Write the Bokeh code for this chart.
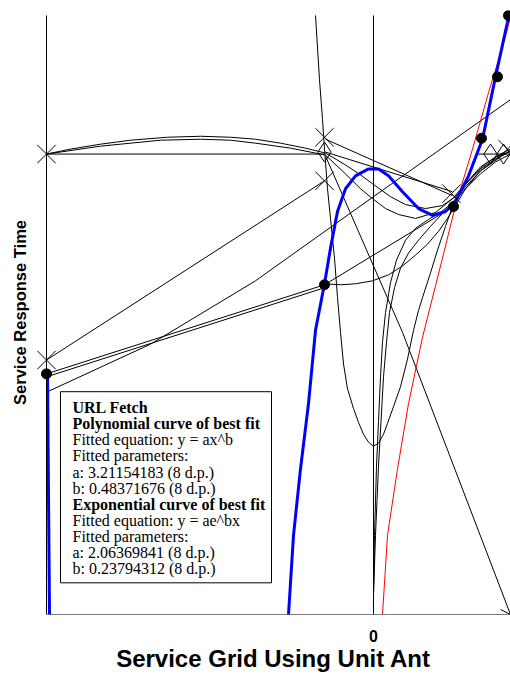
from bokeh.plotting import figure
from bokeh.models import Range1d, FixedTicker, Arrow, OpenHead, BoxAnnotation, Label
from bokeh.embed import file_html
from bokeh.resources import INLINE

# ---- data ----
dots_x = [-32.7, -4.9, 8.0, 10.8, 12.4, 13.5]
dots_y = [24.3, 33.3, 41.2, 48.1, 54.3, 60.5]

cross_x = [-32.7, -32.7, -4.9, -4.9, 7.8, 13.4]
cross_y = [46.5, 25.7, 48.2, 43.8, 42.5, 47.0]

diam_x = [-4.9, 11.7, 13.0]
diam_y = [46.7, 46.5, 46.5]

blue_x = [-8.5, -8.0, -7.3, -6.5, -5.8, -4.9, -4.3, -3.6, -2.8, -1.8, -0.5, 0.5, 1.5, 2.9, 4.5, 5.9, 7.2, 8.2, 9.5, 10.9, 12.2, 13.5]
blue_y = [0, 8.0, 14.7, 21.3, 28.7, 33.4, 37.0, 40.7, 43.0, 44.3, 45.0, 45.0, 44.3, 42.7, 41.0, 40.3, 40.7, 41.7, 44.3, 48.0, 54.3, 60.3]
blue_left_x = [-32.6, -32.4]
blue_left_y = [24.3, 0]

red_x = [0.9, 1.4, 2.4, 3.5, 4.9, 6.9, 8.2, 9.9, 11.5, 12.9, 13.7]
red_y = [0, 8.0, 14.7, 21.3, 28.0, 36.0, 41.3, 47.0, 52.7, 57.3, 60.3]

h_left_x = [-32.7, -4.9]
h_left_y = [46.5, 46.5]
h_right_x = [10.4, 13.7]
h_right_y = [46.5, 46.5]
diag1_x = [-32.7, -4.9]
diag1_y = [25.7, 43.8]
d2a_x = [-32.7, -4.9]
d2a_y = [24.3, 33.3]
d2b_x = [-32.7, -4.9]
d2b_y = [24.0, 33.0]
d3_x = [-4.9, 8.0]
d3_y = [33.3, 41.2]
long_x = [-32.6, -22.3, -11.8, 0, 13.7]
long_y = [22.5, 27.3, 33.7, 42.2, 52.0]
u_x = [-5.8, -5.4, -5.1, -4.9, -4.6, -4.3, -3.9, -3.6, -3.3, -3.0, -2.6, -2.0, -1.5, -1.0, -0.5, 0, 0.5, 1.0, 1.4,
       2.0, 2.7, 3.4, 4.0, 4.5, 4.9, 5.7, 6.4, 7.2, 7.9, 9.2, 10.7, 12.2, 13.7]
u_y = [60.5, 54.0, 50.0, 47.0, 43.0, 40.0, 36.0, 32.0, 28.5, 25.3, 22.8, 20.8, 19.4, 18.2, 17.4, 17.0, 17.3, 18.2, 19.3,
       21.0, 23.0, 25.8, 28.7, 30.7, 32.0, 34.5, 36.8, 39.2, 41.2, 43.5, 45.2, 46.2, 46.8]
e2a_x = [0, 0.05, 0.1, 0.2, 0.3, 0.5, 0.7, 0.9, 1.2, 1.7, 2.3, 3.2, 4.2, 5.5, 6.7, 7.9, 9.2, 10.7, 12.2, 13.7]
e2a_y = [2.0, 5.0, 8.0, 11.5, 15.0, 19.5, 24.0, 27.5, 30.5, 33.5, 35.8, 37.8, 39.0, 39.9, 40.6, 41.6, 43.2, 44.8, 46.0, 46.8]
e2b_x = [0, 0.1, 0.2, 0.35, 0.5, 0.75, 1.0, 1.3, 1.6, 2.1, 2.7, 3.5, 4.5, 5.7, 6.9, 7.9, 9.2, 10.7, 12.2, 13.7]
e2b_y = [2.0, 5.0, 8.0, 11.5, 15.0, 19.5, 24.0, 27.5, 30.5, 33.0, 35.0, 36.5, 37.8, 39.2, 40.5, 41.5, 43.0, 44.5, 45.7, 46.5]
e3_x = [-4.8, 2.9, 13.7]
e3_y = [46.3, 28.5, 0]
e4a_x = [-4.8, 7.9]
e4a_y = [48.0, 42.3]
e4b_x = [-4.8, 7.9]
e4b_y = [46.7, 42.7]
arca_x = [-32.7, -30.3, -27.3, -24.3, -20.6, -17.3, -14.3, -11.8, -9.3, -6.8, -4.8, -2.8, -1.3, -0.1, 1.7, 3.2, 5.2,
          6.9, 8.2, 9.7, 11.2, 12.7, 13.7]
arca_y = [46.5, 47.0, 47.5, 47.9, 48.2, 48.3, 48.2, 48.0, 47.6, 47.1, 46.6, 45.4, 44.4, 43.5, 42.2, 41.4, 41.0,
          41.3, 42.2, 44.0, 45.5, 46.5, 47.0]
arcb_x = [-32.7, -27.3, -21.3, -17.3, -14.3, -11.8, -8.3, -4.8, -2.8, -1.3, -0.1, 1.2, 2.5, 4.2, 6.2, 7.9, 9.2,
          10.7, 12.2, 13.2]
arcb_y = [46.5, 47.3, 47.9, 48.0, 47.9, 47.6, 47.1, 46.4, 44.5, 43.0, 42.0, 41.0, 40.4, 40.0, 40.6, 42.0, 43.5,
          45.0, 46.0, 46.5]
e6_x = [-4.9, -3.3, -1.8, -0.1, 1.5, 2.9, 4.2, 5.4, 6.5, 7.4, 8.2, 9.2, 10.7, 12.7]
e6_y = [33.4, 33.3, 33.4, 33.7, 34.3, 35.2, 36.3, 37.4, 38.7, 40.0, 41.3, 43.0, 44.8, 46.2]

x_axis_start, x_axis_end = -32.7, 13.7
y_axis_top = 60.5
x_title = "Service Grid Using Unit Ant"
y_title = "Service Response Time"

legend_lines = [
    ("URL Fetch", "bold"),
    ("Polynomial curve of best fit", "bold"),
    ("Fitted equation:  y = ax^b", "normal"),
    ("Fitted parameters:", "normal"),
    ("a:  3.21154183 (8 d.p.)", "normal"),
    ("b:  0.48371676 (8 d.p.)", "normal"),
    ("Exponential curve of best fit", "bold"),
    ("Fitted equation:  y = ae^bx", "normal"),
    ("Fitted parameters:", "normal"),
    ("a:  2.06369841 (8 d.p.)", "normal"),
    ("b:  0.23794312 (8 d.p.)", "normal"),
]

p = figure(width=510, height=674, output_backend="svg", toolbar_location=None,
           x_range=Range1d(-33.7, 13.7), y_range=Range1d(0, 61.0),
           min_border_left=36, min_border_right=0, min_border_top=10, min_border_bottom=54)
p.xgrid.visible = False
p.ygrid.visible = False
p.outline_line_color = None
p.background_fill_color = "white"
p.border_fill_color = "white"

xa = p.xaxis[0]
xa.ticker = FixedTicker(ticks=[0])
xa.major_tick_out = 0
xa.major_tick_in = 0
xa.minor_tick_out = 0
xa.minor_tick_in = 0
xa.axis_line_color = None
xa.major_label_text_font = "Liberation Sans"
xa.major_label_text_font_style = "bold"
xa.major_label_text_font_size = "16px"
xa.major_label_text_color = "black"
xa.major_label_standoff = 15
xa.axis_label = x_title
xa.axis_label_text_font = "Liberation Sans"
xa.axis_label_text_font_style = "bold"
xa.axis_label_text_font_size = "24px"
xa.axis_label_text_color = "black"
xa.axis_label_standoff = 0

ya = p.yaxis[0]
ya.ticker = FixedTicker(ticks=[])
ya.major_tick_out = 0
ya.minor_tick_out = 0
ya.major_label_text_font_size = "0px"
ya.axis_line_color = None
ya.axis_label = y_title
ya.axis_label_text_font = "Liberation Sans"
ya.axis_label_text_font_style = "bold"
ya.axis_label_text_font_size = "16.5px"
ya.axis_label_text_color = "black"
ya.axis_label_standoff = 8

# axis lines (not clipped), x-axis with open arrow head
p.add_layout(Arrow(end=OpenHead(size=10, line_color="black", line_width=1),
                   x_start=x_axis_start, y_start=0, x_end=x_axis_end, y_end=0,
                   line_color="black", line_width=1))
p.add_layout(Arrow(end=None, x_start=x_axis_start, y_start=0, x_end=x_axis_start, y_end=y_axis_top,
                   line_color="black", line_width=1))
p.add_layout(Arrow(end=None, x_start=0, y_start=0, x_end=0, y_end=y_axis_top,
                   line_color="black", line_width=1))

black_lines = [
    (h_left_x, h_left_y), (h_right_x, h_right_y), (diag1_x, diag1_y), (d2a_x, d2a_y),
    (d2b_x, d2b_y), (d3_x, d3_y), (long_x, long_y), (u_x, u_y), (e2a_x, e2a_y),
    (e2b_x, e2b_y), (e3_x, e3_y), (e4a_x, e4a_y), (e4b_x, e4b_y), (arca_x, arca_y),
    (arcb_x, arcb_y), (e6_x, e6_y),
]
for xs, ys in black_lines:
    p.line(xs, ys, line_color="black", line_width=1)

p.line(red_x, red_y, line_color="red", line_width=1)
p.line(blue_x, blue_y, line_color="blue", line_width=3)
p.line(blue_left_x, blue_left_y, line_color="blue", line_width=3)

p.scatter(cross_x, cross_y, marker="x", size=26, line_color="black", line_width=1)
p.scatter(diam_x, diam_y, marker="diamond", size=20, line_color="black", fill_color=None, line_width=1)
p.scatter(dots_x, dots_y, marker="circle", size=10, fill_color="black", line_color="black")

p.add_layout(BoxAnnotation(left=-31.3, right=-10.2, bottom=3.2, top=22.5,
                           fill_color="white", fill_alpha=1.0, line_color="black",
                           line_width=1, line_alpha=1.0, level="overlay"))
top_y = 20.9
step = 1.63
for i, (txt, style) in enumerate(legend_lines):
    p.add_layout(Label(x=-30.1, y=top_y - i * step, text=txt, text_font="Liberation Serif",
                       text_font_size="16px", text_font_style=style, text_color="black",
                       text_baseline="middle", level="overlay"))

open("out.html", "w").write(file_html(p, INLINE))
